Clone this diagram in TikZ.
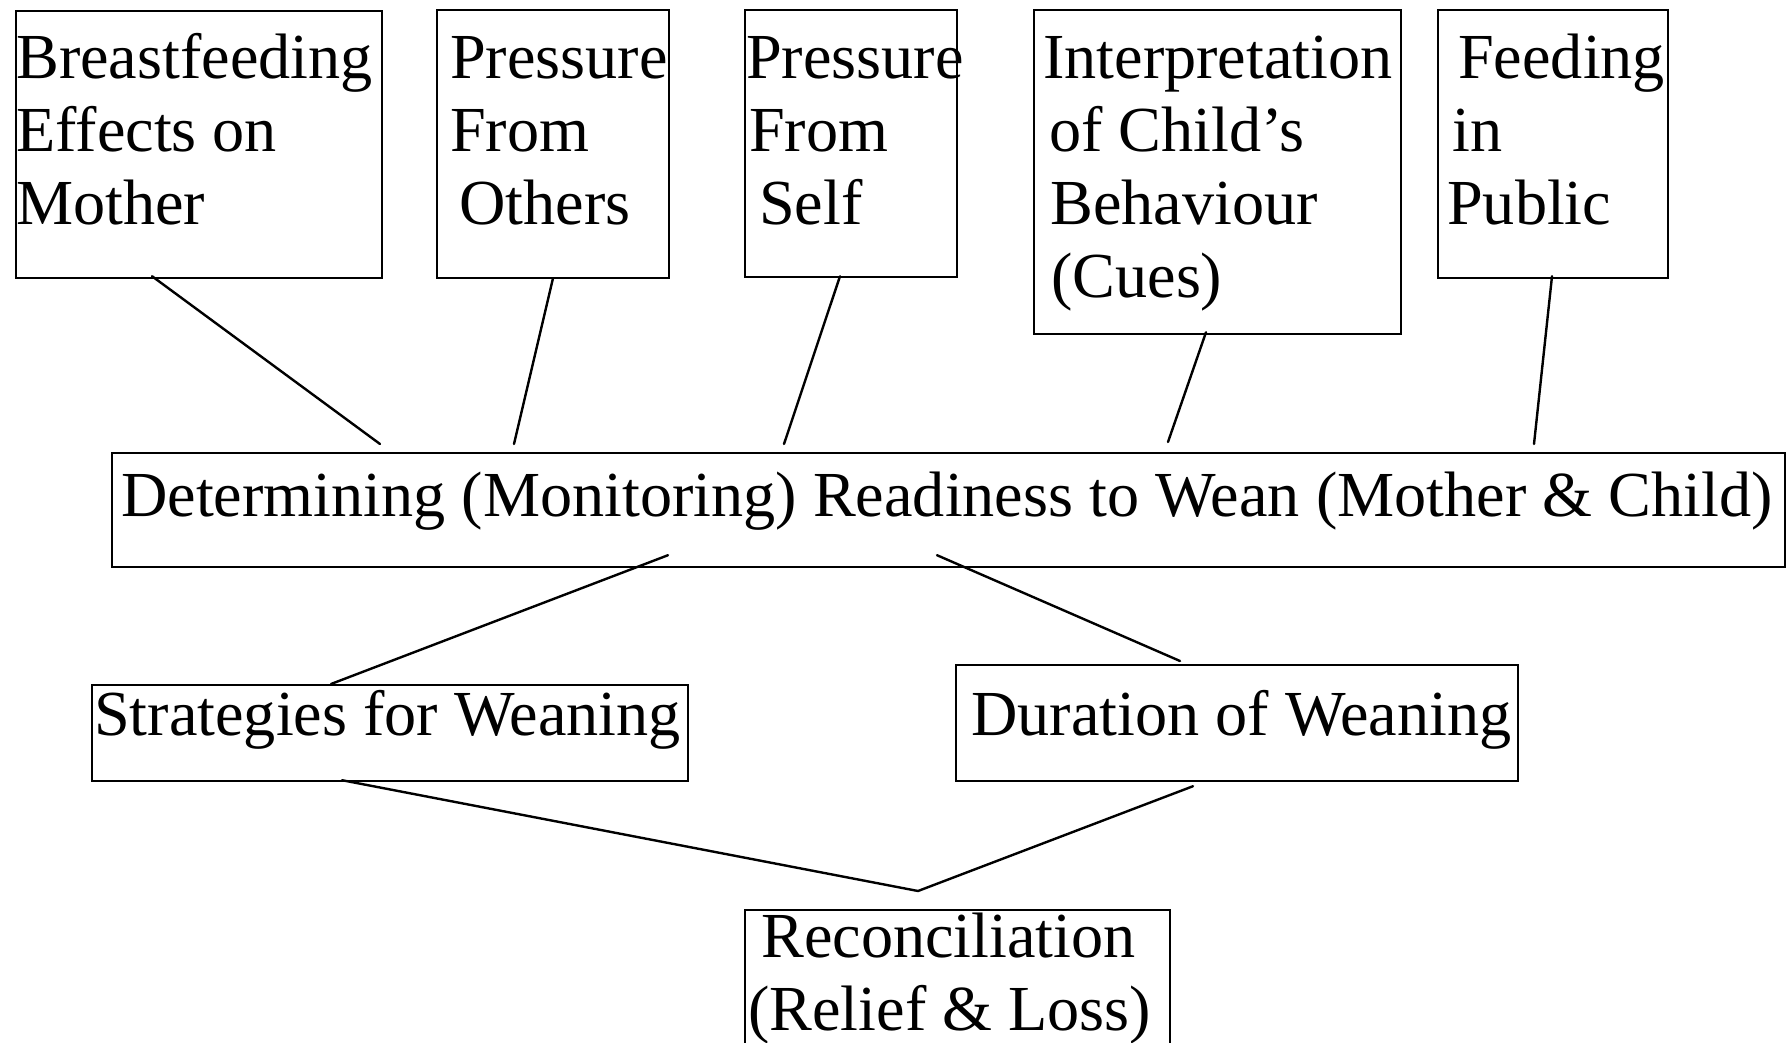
\documentclass[tikz,border=0pt]{standalone}
\usepackage{fontspec}
\setmainfont{Liberation Serif}
\usetikzlibrary{calc}

\tikzset{
  box/.style={draw, line width=2.2pt, inner sep=0pt, anchor=north west},
  txt/.style={inner sep=0pt, anchor=base west},
  link/.style={line width=2.4pt, line cap=round, line join=round},
}
% left-aligned block of lines whose baseline is the first line
\newcommand{\block}[1]{\begin{tabular}[t]{@{}l@{}}#1\end{tabular}}

\begin{document}
\begin{tikzpicture}[x=1pt, y=-1pt, font=\fontsize{64.2}{73}\selectfont]
\useasboundingbox (0,0) rectangle (1787,1043);
\clip (0,0) rectangle (1787,1043);
\fill[white] (0,0) rectangle (1787,1043);

% top row of factors
\node[box, minimum width=366pt, minimum height=267pt] (b1) at (15,10) {};
\node[box, minimum width=232pt, minimum height=268pt] (b2) at (436,9) {};
\node[box, minimum width=212pt, minimum height=267pt] (b3) at (744,9) {};
\node[box, minimum width=367pt, minimum height=324pt] (b4) at (1033,9) {};
\node[box, minimum width=230pt, minimum height=268pt] (b5) at (1437,9) {};

\node[txt] (t1) at (16,79) {\block{Breastfeeding\\Effects on\\Mother}};
\node[txt] (t2) at (450,79) {\block{Pressure\\From\\\hspace{9pt}Others}};
\node[txt] (t3) at (746,79) {\block{Pressure\\\hspace{3pt}From\\\hspace{13pt}Self}};
\node[txt] (t4) at (1043,79) {\block{Interpretation\\\hspace{6pt}of Child’s\\\hspace{7pt}Behaviour\\\hspace{8pt}(Cues)}};
\node[txt] (t5) at (1447,79) {\block{\hspace{11pt}Feeding\\\hspace{5pt}in\\Public}};

% central process
\node[box, minimum width=1673pt, minimum height=114pt] (main) at (111,452) {};
\node[txt] (tm) at (121,516) {Determining (Monitoring) Readiness to Wean (Mother \& Child)};

% second level
\node[box, minimum width=596pt, minimum height=96pt] (strat) at (91,684) {};
\node[txt] (ts) at (94,735) {Strategies for Weaning};
\node[box, minimum width=562pt, minimum height=116pt] (dur) at (955,664) {};
\node[txt] (td) at (971,735) {Duration of Weaning};

% outcome
\node[box, minimum width=425pt, minimum height=160pt] (rec) at (744,909) {};
\node[txt] (tr) at (748,957) {\block{\hspace{13pt}Reconciliation\\(Relief \& Loss)}};

% connectors
\draw[link] ($(b1.south west)+(137,-3)$) -- ($(main.north west)+(269,-8)$);
\draw[link] ($(b2.south west)+(117,-1)$) -- ($(main.north west)+(403,-8)$);
\draw[link] ($(b3.south west)+(96,-2)$) -- ($(main.north west)+(673,-8)$);
\draw[link] ($(b4.south west)+(173,-3)$) -- ($(main.north west)+(1057,-10)$);
\draw[link] ($(b5.south west)+(115,-3)$) -- ($(main.north west)+(1423,-8)$);

\draw[link] ($(main.south west)+(557,-13)$) -- ($(strat.north west)+(240,0)$);
\draw[link] ($(main.south west)+(826,-13)$) -- ($(dur.north west)+(225,-3)$);

\coordinate (j) at ($(rec.north west)+(174,-18)$);
\draw[link] ($(strat.south west)+(251,-2)$) -- (j) -- ($(dur.south west)+(238,4)$);
\end{tikzpicture}
\end{document}
